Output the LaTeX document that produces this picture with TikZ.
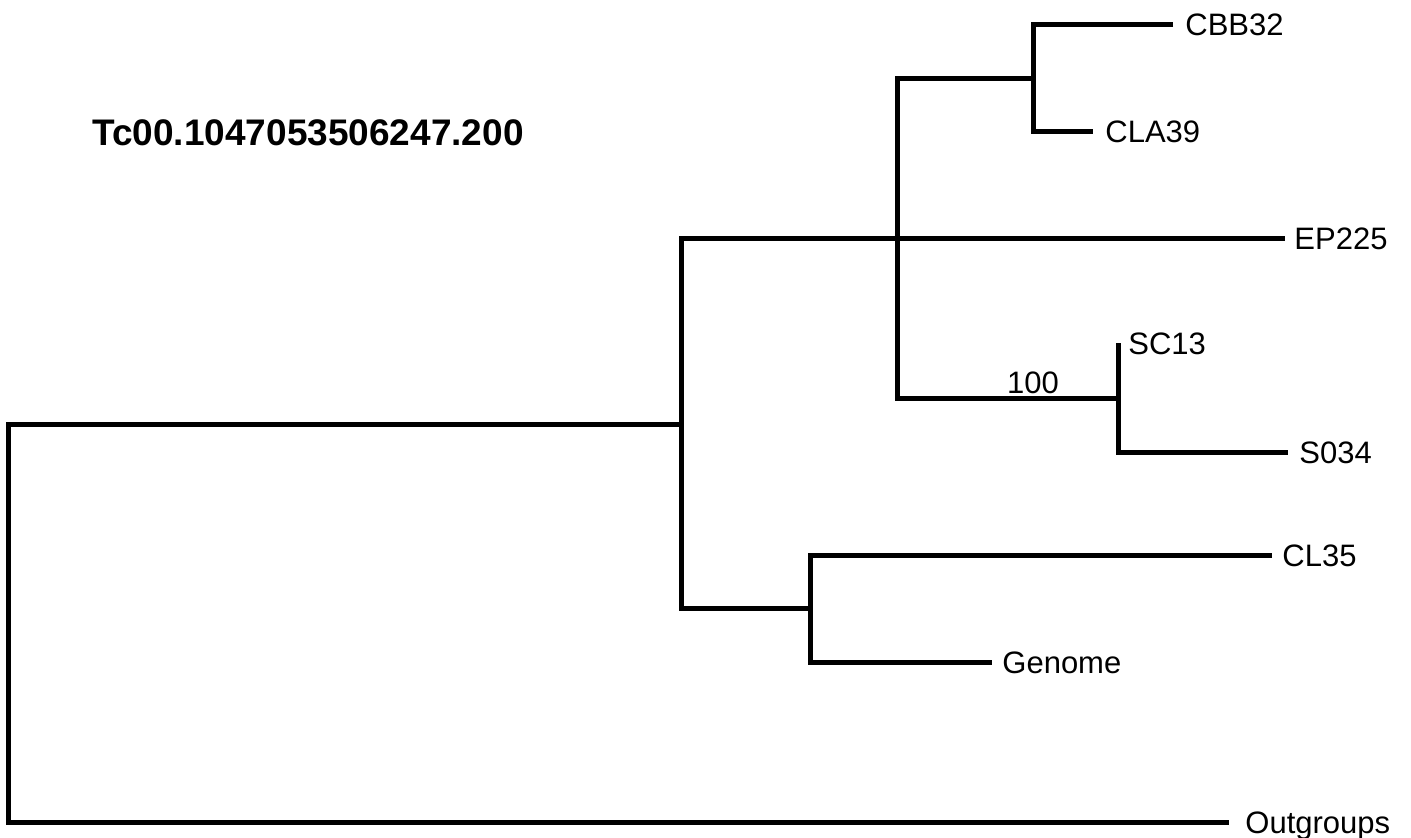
\documentclass[tikz,border=0pt]{standalone}
\usepackage{fontspec}
\setmainfont{Liberation Sans}
\begin{document}
\begin{tikzpicture}[x=0.5pt,y=-0.5pt,
  branch/.style={line width=2.5pt,line join=miter,line cap=butt},
  leaf/.style={anchor=base west,inner sep=0pt,yshift=-5.5pt,font=\fontsize{15.5pt}{18pt}\selectfont},
  support/.style={anchor=base,inner sep=0pt,font=\fontsize{15.5pt}{18pt}\selectfont},
  titlestyle/.style={anchor=base west,inner sep=0pt,font=\fontsize{18.5pt}{22pt}\selectfont\bfseries}]
\useasboundingbox (0,0) rectangle (1411,837);
% internal nodes
\coordinate (root) at (8,623);
\coordinate (n1) at (681,424);
\coordinate (n2) at (897,238);
\coordinate (n3) at (1033,78);
\coordinate (n4) at (1118,398);
\coordinate (n5) at (810,608);
% tips
\coordinate (tCBB) at (1173,24);
\coordinate (tCLA) at (1093,131);
\coordinate (tEP) at (1285,238);
\coordinate (tSC) at (1118,343);
\coordinate (tSO) at (1288,452);
\coordinate (tCL) at (1272,555);
\coordinate (tGen) at (992,662);
\coordinate (tOut) at (1229,822);
% branches
\draw[branch] (n1) -| (root) |- (tOut);
\draw[branch] (n2) -| (n1) |- (n5);
\draw[branch] (n3) -| (n2) |- (n4);
\draw[branch] (n2) -- (tEP);
\draw[branch] (tCBB) -| (n3) |- (tCLA);
\draw[branch] (tSC) -- (n4) |- (tSO);
\draw[branch] (tCL) -| (n5) |- (tGen);
% labels
\node[leaf,xshift=6pt] (lCBB) at (tCBB) {CBB32};
\node[leaf,xshift=6pt] (lCLA) at (tCLA) {CLA39};
\node[leaf,xshift=4.5pt] (lEP) at (tEP) {EP225};
\node[leaf,xshift=5pt] (lSC) at (tSC) {SC13};
\node[leaf,xshift=5.5pt] (lSO) at (tSO) {S034};
\node[leaf,xshift=5pt] (lCL) at (tCL) {CL35};
\node[leaf,xshift=5pt] (lGen) at (tGen) {Genome};
\node[leaf,xshift=8pt] (lOut) at (tOut) {Outgroups};
\node[support] (s100) at (1033,393) {100};
\node[titlestyle] (title) at (92,145) {Tc00.1047053506247.200};
\end{tikzpicture}
\end{document}
